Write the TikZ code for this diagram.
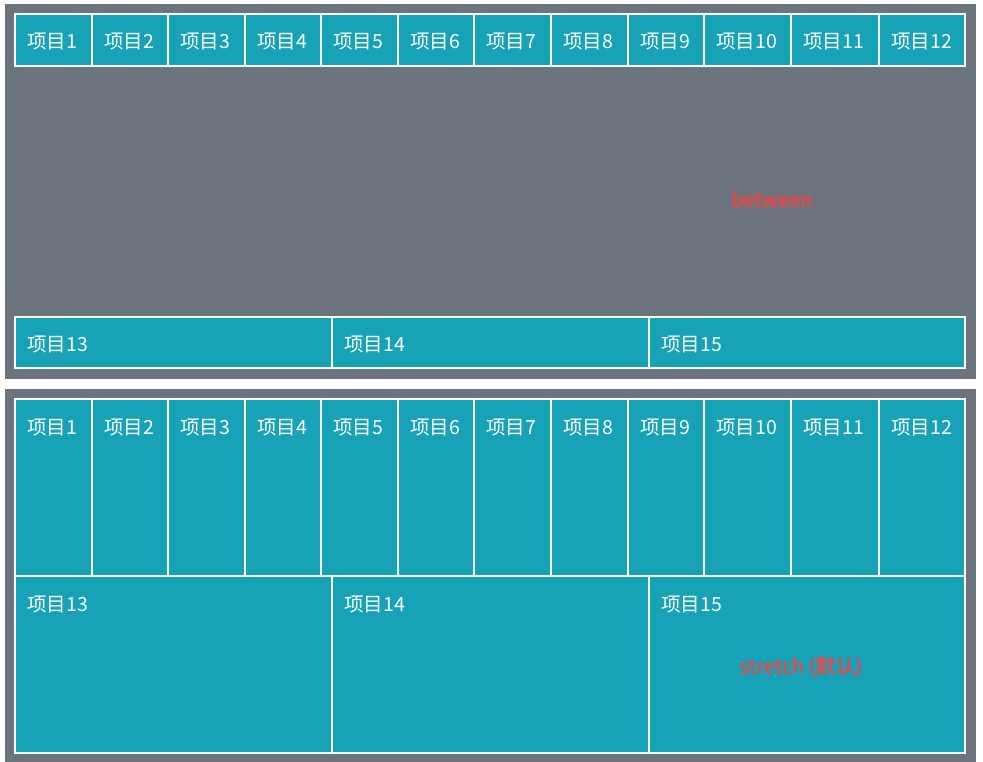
\documentclass[tikz,border=0pt]{standalone}
\usepackage{fontspec}
\setmainfont{Noto Sans CJK SC}
\newfontfamily\notefont[FakeBold=0.6]{Noto Sans CJK SC}
\usetikzlibrary{positioning}
\definecolor{panelgray}{HTML}{6C757D}
\definecolor{itemteal}{HTML}{17A2B8}
\definecolor{notered}{HTML}{FF3E3E}

\begin{document}
\begin{tikzpicture}[x=1pt,y=-1pt,
        panel/.style={fill=panelgray},
        item/.style={fill=itemteal, draw=white, line width=1.3pt, anchor=north west, inner sep=0, outer sep=0},
        itemtext/.style={text=white, font=\fontsize{19.5}{23}\selectfont, anchor=west, inner sep=0},
        notetext/.style={text=notered, font=\notefont\fontsize{20}{24}\selectfont, inner sep=0},
    ]
    % page and the two grey panels
    \fill[white] (0,0) rectangle (983,762);
    \useasboundingbox (0,0) rectangle (983,762);
    \fill[panel] (5,4) rectangle (976,379);
    \fill[panel] (5,389) rectangle (976,762);
    % upper panel: between
    \foreach \xa/\xb [count=\i] in {15/92,92/168,168/245,245/321,321/398,398/474,474/551,551/628,628/704,704/791,791/879,879/965} {
        \node[item, minimum width=\xb-\xa, minimum height=52] (a\i) at (\xa,14) {};
        \node[itemtext] (ta\i) at ([xshift=12pt,yshift=-27.5pt]a\i.north west) {项目\i};
    }
    \foreach \xa/\xb [count=\i from 13] in {15/332,332/649,649/965} {
        \node[item, minimum width=\xb-\xa, minimum height=51] (a\i) at (\xa,317) {};
        \node[itemtext] (ta\i) at ([xshift=12pt,yshift=-27.5pt]a\i.north west) {项目\i};
    }
    \node[notetext] (between) at (772,199) {between};
    % lower panel: stretch
    \foreach \xa/\xb [count=\i] in {15/92,92/168,168/245,245/321,321/398,398/474,474/551,551/628,628/704,704/791,791/879,879/965} {
        \node[item, minimum width=\xb-\xa, minimum height=177] (b\i) at (\xa,399) {};
        \node[itemtext] (tb\i) at ([xshift=12pt,yshift=-28.5pt]b\i.north west) {项目\i};
    }
    \foreach \xa/\xb [count=\i from 13] in {15/332,332/649,649/965} {
        \node[item, minimum width=\xb-\xa, minimum height=177] (b\i) at (\xa,576) {};
        \node[itemtext] (tb\i) at ([xshift=12pt,yshift=-28.5pt]b\i.north west) {项目\i};
    }
    \node[notetext] (stretch) at (801,667) {stretch (默认)};
\end{tikzpicture}
\end{document}
